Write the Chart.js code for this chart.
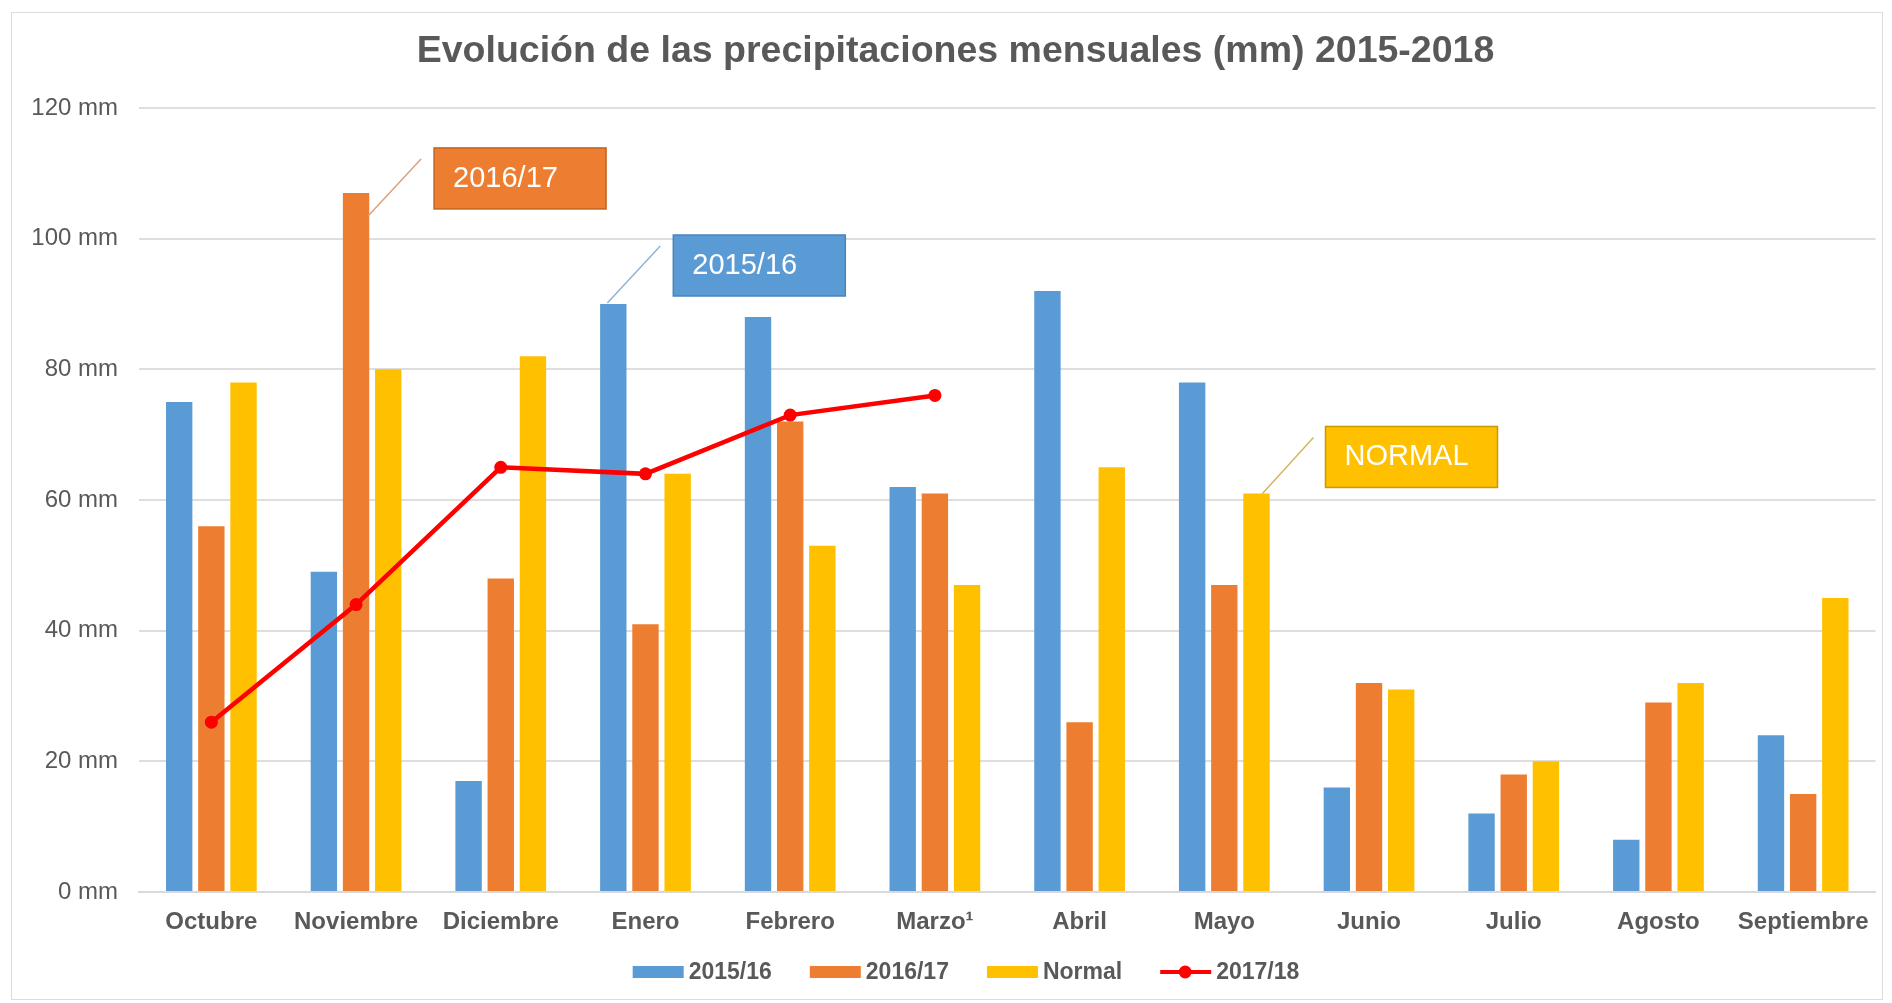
<!DOCTYPE html>
<html>
<head>
<meta charset="utf-8">
<script src="https://cdn.jsdelivr.net/npm/chart.js@4"></script>
<style>
  body { margin: 0; background: #fff; }
  #wrap { position: absolute; left: 11px; top: 12px; width: 1870px; height: 986px; border: 1px solid #dcdcdc; }
</style>
</head>
<body>
<div id="wrap"><canvas id="chart"></canvas></div>
<script>
var months = ['Octubre', 'Noviembre', 'Diciembre', 'Enero', 'Febrero', 'Marzo\u00b9', 'Abril', 'Mayo', 'Junio', 'Julio', 'Agosto', 'Septiembre'];
var lluvia1516 = [75, 49, 17, 90, 88, 62, 92, 78, 16, 12, 8, 24];
var lluvia1617 = [56, 107, 48, 41, 72, 61, 26, 47, 32, 18, 29, 15];
var normal = [78, 80, 82, 64, 53, 47, 65, 61, 31, 20, 32, 45];
var lluvia1718 = [26, 44, 65, 64, 73, 76, null, null, null, null, null, null];
var yTicks = [0, 20, 40, 60, 80, 100, 120];

var grey = '#595959';
var font = 'Liberation Sans, Arial, sans-serif';

// callout boxes: dataset, month, box offset from bar top, leader line
var callouts = [
    { ds: 1, i: 1, text: '2016/17', fill: '#ED7D31', edge: '#c4641f', line: '#dba17a', bx: 78, by: -45, x0: 12, y0: 23, x1: 65, y1: -34 },
    { ds: 0, i: 3, text: '2015/16', fill: '#5B9BD5', edge: '#4a84bb', line: '#8fb2d6', bx: 60, by: -69, x0: -6, y0: -1, x1: 47, y1: -58 },
    { ds: 2, i: 7, text: 'NORMAL', fill: '#FFC000', edge: '#c99a00', line: '#d6b45c', bx: 69, by: -67, x0: 6, y0: 0, x1: 57, y1: -56 }
];

var extras = {
    id: 'extras',
    afterDatasetsDraw: function(chart) {
        var c = chart.ctx;
        callouts.forEach(function(co) {
            var bar = chart.getDatasetMeta(co.ds).data[co.i];
            c.save();
            c.strokeStyle = co.line;
            c.lineWidth = 1.5;
            c.beginPath();
            c.moveTo(bar.x + co.x0, bar.y + co.y0);
            c.lineTo(bar.x + co.x1, bar.y + co.y1);
            c.stroke();
            var bx = bar.x + co.bx, by = bar.y + co.by;
            c.fillStyle = co.fill;
            c.fillRect(bx, by, 172, 61);
            c.strokeStyle = co.edge;
            c.strokeRect(bx, by, 172, 61);
            c.fillStyle = '#fff';
            c.font = '29px ' + font;
            c.textBaseline = 'middle';
            c.fillText(co.text, bx + 19, by + 31);
            c.restore();
        });

        // legend
        var items = chart.data.datasets.map(function(d) {
            return { label: d.label, color: d.backgroundColor, line: d.type === 'line' };
        });
        c.save();
        c.font = 'bold 23px ' + font;
        c.textBaseline = 'middle';
        var total = 0;
        items.forEach(function(it, k) {
            it.w = 56 + c.measureText(it.label).width;
            total += it.w + (k ? 38 : 0);
        });
        var x = chart.width / 2 + 19 - total / 2;
        var y = chart.chartArea.bottom + 80;
        items.forEach(function(it) {
            if (it.line) {
                c.strokeStyle = '#FF0000';
                c.lineWidth = 4;
                c.beginPath();
                c.moveTo(x, y);
                c.lineTo(x + 51, y);
                c.stroke();
                c.fillStyle = '#FF0000';
                c.beginPath();
                c.arc(x + 25, y, 6.5, 0, Math.PI * 2);
                c.fill();
            } else {
                c.fillStyle = it.color;
                c.fillRect(x, y - 6, 51, 12);
            }
            c.fillStyle = grey;
            c.fillText(it.label, x + 56, y + 1);
            x += it.w + 38;
        });
        c.restore();
    }
};

new Chart(document.getElementById('chart'), {
    type: 'bar',
    data: {
        labels: months,
        datasets: [
            { label: '2015/16', data: lluvia1516, backgroundColor: '#5B9BD5', order: 2 },
            { label: '2016/17', data: lluvia1617, backgroundColor: '#ED7D31', order: 2 },
            { label: 'Normal', data: normal, backgroundColor: '#FFC000', order: 2 },
            {
                label: '2017/18', type: 'line', data: lluvia1718, order: 1,
                borderColor: '#FF0000', backgroundColor: '#FF0000', borderWidth: 4.5,
                pointRadius: 6.5, pointBackgroundColor: '#FF0000', pointBorderWidth: 0,
                tension: 0, fill: false
            }
        ]
    },
    options: {
        responsive: true,
        maintainAspectRatio: false,
        animation: false,
        categoryPercentage: 0.667,
        barPercentage: 0.82,
        layout: { padding: { left: 18, right: 1, top: 0, bottom: 0 } },
        plugins: {
            legend: { display: false },
            tooltip: { enabled: false },
            title: {
                display: true,
                text: 'Evolución de las precipitaciones mensuales (mm) 2015-2018',
                color: grey,
                font: { family: font, size: 37.5, weight: 'bold' },
                padding: { top: 16, bottom: 34 }
            }
        },
        scales: {
            x: {
                grid: { display: false },
                border: { color: '#d9d9d9', width: 2 },
                ticks: { color: grey, font: { family: font, size: 24, weight: 'bold' }, padding: 8, maxRotation: 0, autoSkip: false },
                afterFit: function(s) { s.height = 107; }
            },
            y: {
                min: 0,
                max: 120,
                afterBuildTicks: function(s) { s.ticks = yTicks.map(function(v) { return { value: v }; }); },
                grid: { color: '#dedede', lineWidth: 2, drawTicks: false },
                border: { display: false },
                ticks: { color: grey, font: { family: font, size: 24 }, padding: 21, callback: function(v) { return v + ' mm'; } },
                afterFit: function(s) { s.width = 109; }
            }
        }
    },
    plugins: [extras]
});
</script>
</body>
</html>
